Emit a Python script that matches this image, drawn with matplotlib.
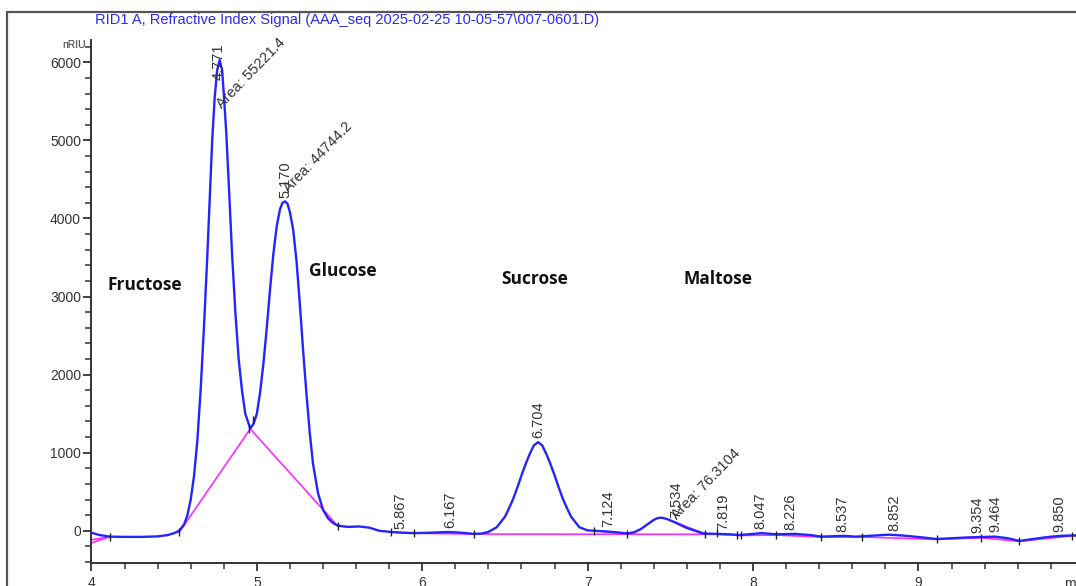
import matplotlib
matplotlib.use("Agg")
import matplotlib.pyplot as plt
from matplotlib.patches import Rectangle

# RID trace (time in min, signal in nRIU)
time = [4.00, 4.05, 4.11, 4.20, 4.30, 4.40, 4.46, 4.50, 4.53, 4.56, 4.58, 4.60,
        4.62, 4.64, 4.66, 4.68, 4.70, 4.72, 4.73, 4.745, 4.76, 4.775, 4.79, 4.80,
        4.815, 4.83, 4.85, 4.87, 4.89, 4.91, 4.93, 4.96, 4.98, 5.00, 5.02, 5.04,
        5.06, 5.08, 5.10, 5.12, 5.14, 5.155, 5.17, 5.185, 5.20, 5.22, 5.24, 5.26,
        5.28, 5.30, 5.32, 5.34, 5.37, 5.40, 5.43, 5.46, 5.49, 5.55, 5.62, 5.68,
        5.74, 5.81, 5.88, 5.95, 6.05, 6.16, 6.24, 6.31, 6.36, 6.40, 6.45, 6.50,
        6.525, 6.55, 6.575, 6.60, 6.625, 6.65, 6.675, 6.70, 6.725, 6.75, 6.775, 6.80,
        6.825, 6.85, 6.875, 6.90, 6.95, 7.00, 7.04, 7.12, 7.20, 7.24, 7.28, 7.32,
        7.36, 7.40, 7.42, 7.44, 7.46, 7.48, 7.52, 7.56, 7.60, 7.65, 7.70, 7.78,
        7.86, 7.92, 8.00, 8.05, 8.14, 8.25, 8.35, 8.41, 8.48, 8.55, 8.62, 8.70,
        8.82, 8.90, 9.00, 9.11, 9.20, 9.30, 9.38, 9.46, 9.54, 9.61, 9.68, 9.78,
        9.86, 9.93, 10.00]
signal = [-25, -55, -75, -78, -78, -72, -55, -30, 0, 80, 200, 400,
          700, 1150, 1800, 2600, 3500, 4500, 5000, 5550, 5900, 6030, 5900, 5600,
          5100, 4450, 3550, 2800, 2200, 1800, 1500, 1310, 1370, 1500, 1780, 2150,
          2600, 3100, 3550, 3900, 4120, 4200, 4220, 4190, 4080, 3850, 3450, 2900,
          2300, 1750, 1250, 850, 480, 270, 160, 100, 65, 50, 55, 40,
          0, -15, -25, -30, -25, -15, -25, -40, -35, -15, 45, 180,
          290, 410, 555, 710, 855, 985, 1095, 1135, 1095, 985, 855, 710,
          555, 410, 290, 180, 45, 5, 0, -10, -25, -35, -20, 20,
          80, 140, 160, 168, 162, 150, 115, 75, 35, 0, -35, -40,
          -45, -55, -40, -30, -45, -40, -55, -75, -70, -65, -75, -65,
          -50, -60, -80, -105, -95, -85, -80, -75, -95, -130, -110, -80,
          -65, -60, -55]

# integration baselines (pink)
baselines = [
    [(4.00, -115), (4.11, -78)],
    [(4.00, -155), (4.11, -78)],
    [(4.53, -20), (4.96, 1305), (5.49, 60)],
    [(5.81, -15), (5.95, -30), (6.31, -42), (7.71, -45)],
    [(7.04, 0), (7.24, -35)],
    [(7.53, 110), (7.71, -40)],
    [(7.71, -45), (7.78, -45), (7.92, -60), (8.14, -55), (8.41, -80), (8.66, -80),
     (9.11, -110), (9.38, -90), (9.61, -135), (9.93, -65), (10.00, -55)],
]

# peak start/end marks
bound_t = [4.11, 4.53, 4.955, 4.975, 5.49, 5.81, 5.95, 6.31, 7.04, 7.24, 7.71,
           7.78, 7.905, 7.925, 8.14, 8.41, 8.66, 9.11, 9.38, 9.61, 9.93]
bound_s = [-78, -20, 1305, 1420, 60, -15, -30, -42, 0, -35, -45,
           -25, -60, -60, -55, -80, -80, -110, -90, -135, -65]

# retention time labels and signal under each
rt = [4.771, 5.170, 5.867, 6.167, 6.704, 7.124, 7.534, 7.819, 8.047, 8.226,
      8.537, 8.852, 9.354, 9.464, 9.850]
rt_sig = [5720, 4210, -25, -15, 1135, -10, 115, -40, -30, -40,
          -65, -55, -80, -75, -65]

areas = ["Area: 55221.4", "Area: 44744.2", "Area: 76.3104"]
area_at = [(4.805, 5370), (5.205, 4300), (7.555, 115)]

sugars = ["Fructose", "Glucose", "Sucrose", "Maltose"]
sugar_at = [(4.10, 3150), (5.315, 3330), (6.476, 3225), (7.58, 3225)]

title = r"RID1 A, Refractive Index Signal (AAA_seq 2025-02-25 10-05-57\007-0601.D)"

plt.rcParams["font.family"] = ["Liberation Sans", "DejaVu Sans"]
dark = "#333333"

fig = plt.figure(figsize=(10.76, 5.86), dpi=100)
ax = fig.add_axes([0.085, 0.0392, 0.9223, 0.8917])

ax.plot(time, signal, color="#2424ff", lw=1.7, zorder=3)
for seg in baselines:
    ax.plot([p[0] for p in seg], [p[1] for p in seg], color="#ff2cff", lw=1.2, zorder=2)
ax.plot(bound_t, bound_s, ls="none", marker="|", ms=6, mew=1.0, color="#222222", zorder=4)

for t, s in zip(rt, rt_sig):
    ax.annotate(f"{t:.3f}", (t, s), xytext=(0, 3), textcoords="offset points",
                rotation=90, ha="center", va="bottom", fontsize=10.5, color=dark)
for txt, (t, s) in zip(areas, area_at):
    ax.text(t, s, txt, rotation=46, rotation_mode="anchor", ha="left", va="bottom",
            fontsize=10.5, color=dark)
for name, (t, s) in zip(sugars, sugar_at):
    ax.text(t, s, name, ha="left", va="center", fontsize=12.5, fontweight="bold",
            family="Open Sans", color="#111111")

ax.set_xlim(4, 10)
ax.set_ylim(-413, 6280)
ax.set_xticks(range(4, 10))
ax.set_xticks([4 + 0.2 * i for i in range(31)], minor=True)
ax.set_yticks(range(0, 7000, 1000))
ax.set_yticks(range(-400, 6300, 200), minor=True)
for side in ["top", "right"]:
    ax.spines[side].set_visible(False)
for side in ["left", "bottom"]:
    ax.spines[side].set_color(dark)
    ax.spines[side].set_linewidth(1.4)
ax.tick_params(which="major", length=6, width=1.3, color=dark, labelsize=10,
               labelcolor=dark, pad=1.5)
ax.tick_params(which="minor", length=4, width=1.1, color=dark)
ax.tick_params(axis="x", pad=3)

ax.annotate("min", (9.88, 0), xycoords=("data", "axes fraction"), xytext=(0, -10),
            textcoords="offset points", ha="left", va="top", fontsize=10, color=dark,
            annotation_clip=False)
fig.text(62 / 1076, 1 - 45 / 586, "nRIU", fontsize=7.5, color=dark, va="center")
fig.text(95 / 1076, 1 - 20 / 586, title, fontsize=10.5, color="#2a2af0", va="center")

fig.patches.append(Rectangle((7 / 1076, -0.2), 2, 1.2 - 12 / 586, transform=fig.transFigure,
                             fill=False, ec="#555555", lw=1.6))

fig.savefig("out.png", dpi=100)
